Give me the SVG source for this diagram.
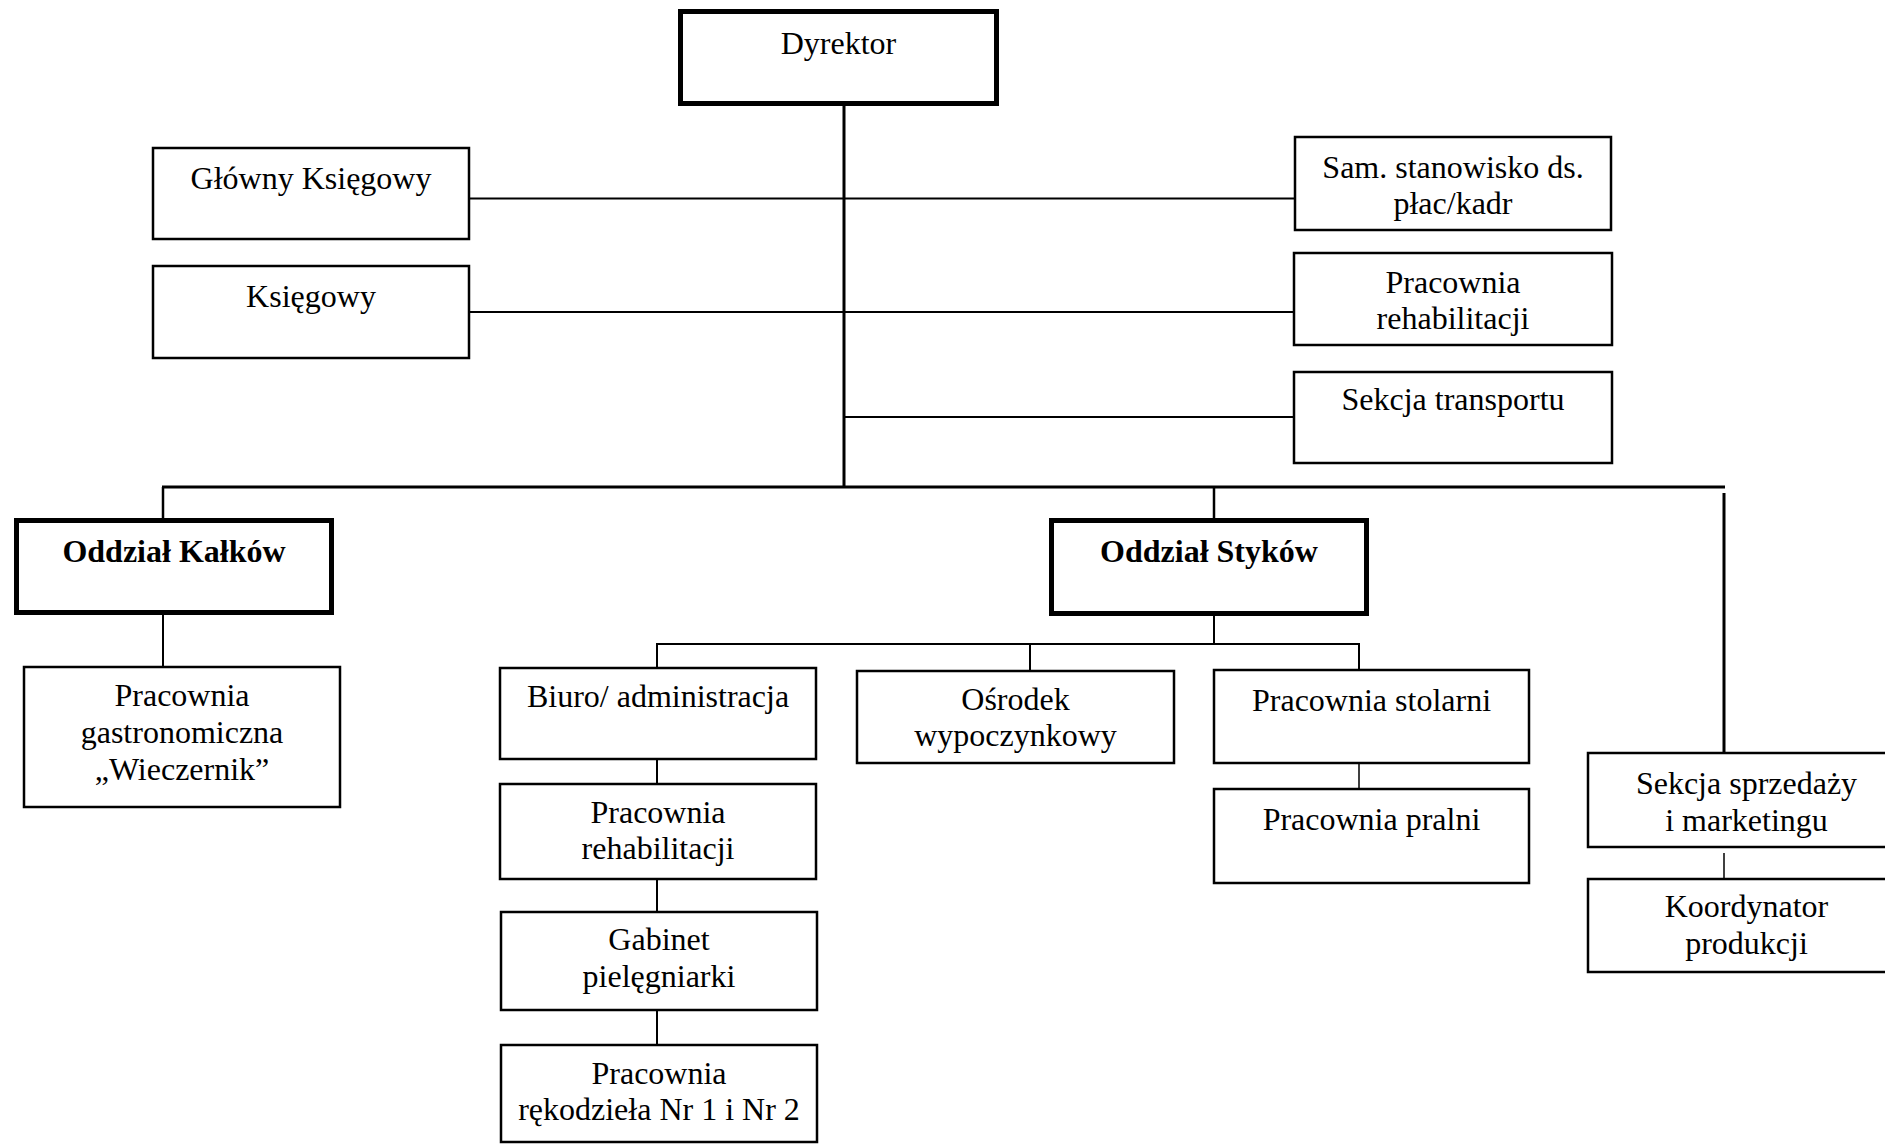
<svg xmlns="http://www.w3.org/2000/svg" width="1885" height="1145" viewBox="0 0 1885 1145">
<style>
  .box { fill: #ffffff; stroke: #000000; stroke-width: 2.5; }
  .thick { fill: #ffffff; stroke: #000000; stroke-width: 5; }
  .t { font-family: "Liberation Serif", "Times New Roman", serif; font-size: 32px; fill: #000000; text-anchor: middle; }
  .b { font-weight: bold; }
  .c { stroke: #000000; fill: none; stroke-width: 2; }
  .c3 { stroke: #000000; fill: none; stroke-width: 3; }
</style>
<rect x="0" y="0" width="1885" height="1145" fill="#ffffff"/>
<g id="connectors">
  <line class="c3" x1="844" y1="106" x2="844" y2="488"/>
  <line class="c" x1="469" y1="198.5" x2="1295" y2="198.5"/>
  <line class="c" x1="469" y1="312" x2="1294" y2="312"/>
  <line class="c" x1="844" y1="417" x2="1294" y2="417"/>
  <line class="c3" x1="162" y1="487" x2="1725" y2="487"/>
  <line class="c" x1="163" y1="487" x2="163" y2="518" style="stroke-width:2.5"/>
  <line class="c" x1="1214" y1="487" x2="1214" y2="519" style="stroke-width:2.5"/>
  <line class="c3" x1="1724" y1="493" x2="1724" y2="753"/>
  <line class="c" x1="163" y1="615" x2="163" y2="667"/>
  <line class="c" x1="1214" y1="616" x2="1214" y2="644"/>
  <line class="c" x1="656" y1="644" x2="1360" y2="644"/>
  <line class="c" x1="657" y1="644" x2="657" y2="667"/>
  <line class="c" x1="1030" y1="644" x2="1030" y2="671"/>
  <line class="c" x1="1359" y1="644" x2="1359" y2="670"/>
  <line class="c" x1="657" y1="759" x2="657" y2="784"/>
  <line class="c" x1="657" y1="879" x2="657" y2="912"/>
  <line class="c" x1="657" y1="1010" x2="657" y2="1045"/>
  <line class="c" x1="1359" y1="760" x2="1359" y2="789" style="stroke-width:1.5"/>
  <line class="c" x1="1724" y1="853" x2="1724" y2="879" style="stroke-width:1.5"/>
</g>
<g id="dyrektor">
  <rect class="thick" x="680.5" y="11.5" width="316" height="92"/>
  <text class="t" x="838.5" y="54">Dyrektor</text>
</g>
<g id="glowny-ksiegowy">
  <rect class="box" x="153" y="148" width="316" height="91"/>
  <text class="t" x="311" y="189">Główny Księgowy</text>
</g>
<g id="ksiegowy">
  <rect class="box" x="153" y="266" width="316" height="92"/>
  <text class="t" x="311" y="307">Księgowy</text>
</g>
<g id="sam-stanowisko">
  <rect class="box" x="1295" y="137" width="316" height="93"/>
  <text class="t" x="1453" y="178">Sam. stanowisko ds.</text>
  <text class="t" x="1453" y="214">płac/kadr</text>
</g>
<g id="pracownia-rehabilitacji-1">
  <rect class="box" x="1294" y="253" width="318" height="92"/>
  <text class="t" x="1453" y="293">Pracownia</text>
  <text class="t" x="1453" y="329">rehabilitacji</text>
</g>
<g id="sekcja-transportu">
  <rect class="box" x="1294" y="372" width="318" height="91"/>
  <text class="t" x="1453" y="410">Sekcja transportu</text>
</g>
<g id="oddzial-kalkow">
  <rect class="thick" x="16.5" y="520.5" width="315" height="92"/>
  <text class="t b" x="174" y="562">Oddział Kałków</text>
</g>
<g id="oddzial-stykow">
  <rect class="thick" x="1051.5" y="520.5" width="315" height="93"/>
  <text class="t b" x="1209" y="562">Oddział Styków</text>
</g>
<g id="pracownia-gastronomiczna">
  <rect class="box" x="24" y="667" width="316" height="140"/>
  <text class="t" x="182" y="706">Pracownia</text>
  <text class="t" x="182" y="743">gastronomiczna</text>
  <text class="t" x="182" y="780">„Wieczernik”</text>
</g>
<g id="biuro-administracja">
  <rect class="box" x="500" y="668" width="316" height="91"/>
  <text class="t" x="658" y="707">Biuro/ administracja</text>
</g>
<g id="pracownia-rehabilitacji-2">
  <rect class="box" x="500" y="784" width="316" height="95"/>
  <text class="t" x="658" y="823">Pracownia</text>
  <text class="t" x="658" y="859">rehabilitacji</text>
</g>
<g id="gabinet-pielegniarki">
  <rect class="box" x="501" y="912" width="316" height="98"/>
  <text class="t" x="659" y="950">Gabinet</text>
  <text class="t" x="659" y="987">pielęgniarki</text>
</g>
<g id="pracownia-rekodziela">
  <rect class="box" x="501" y="1045" width="316" height="97"/>
  <text class="t" x="659" y="1084">Pracownia</text>
  <text class="t" x="659" y="1120">rękodzieła Nr 1 i Nr 2</text>
</g>
<g id="osrodek-wypoczynkowy">
  <rect class="box" x="857" y="671" width="317" height="92"/>
  <text class="t" x="1015.5" y="710">Ośrodek</text>
  <text class="t" x="1015.5" y="746">wypoczynkowy</text>
</g>
<g id="pracownia-stolarni">
  <rect class="box" x="1214" y="670" width="315" height="93"/>
  <text class="t" x="1371.5" y="711">Pracownia stolarni</text>
</g>
<g id="pracownia-pralni">
  <rect class="box" x="1214" y="789" width="315" height="94"/>
  <text class="t" x="1371.5" y="830">Pracownia pralni</text>
</g>
<g id="sekcja-sprzedazy">
  <rect class="box" x="1588" y="753" width="317" height="94"/>
  <text class="t" x="1746.5" y="794">Sekcja sprzedaży</text>
  <text class="t" x="1746.5" y="831">i marketingu</text>
</g>
<g id="koordynator-produkcji">
  <rect class="box" x="1588" y="879" width="317" height="93"/>
  <text class="t" x="1746.5" y="917">Koordynator</text>
  <text class="t" x="1746.5" y="954">produkcji</text>
</g>
</svg>
